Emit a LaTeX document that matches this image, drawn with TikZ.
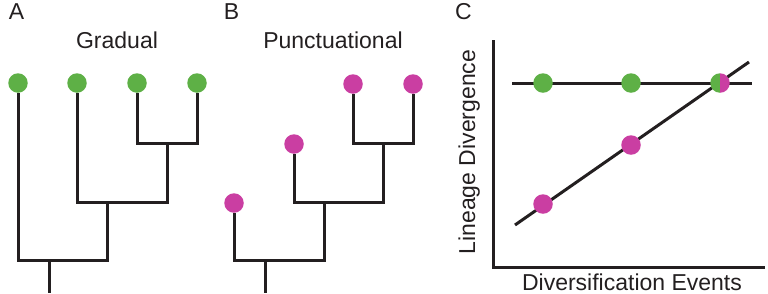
\documentclass[tikz,border=0pt]{standalone}
\usepackage{fontspec}
\setmainfont{Liberation Sans}
\usepackage{tikz}
\usetikzlibrary{positioning, calc}
\definecolor{tipgreen}{RGB}{94,176,70}
\definecolor{tippink}{RGB}{202,62,162}
\definecolor{inkgray}{RGB}{35,31,32}
\tikzstyle{branch} = [draw=inkgray, line width=3pt]
\tikzstyle{tipdot} = [circle, minimum size=19.5pt, inner sep=0pt]
\tikzstyle{gdot} = [tipdot, fill=tipgreen]
\tikzstyle{pdot} = [tipdot, fill=tippink]
\tikzstyle{txt} = [font=\fontsize{23}{27}\selectfont, inner sep=0pt, anchor=base, text=inkgray]

\begin{document}
\begin{tikzpicture}[x=1pt, y=-1pt]
\useasboundingbox (0,0) rectangle (768,293);

% panel letters and titles
\node (labA) [txt] at (16.5,19) {A};
\node (labB) [txt] at (231.5,19) {B};
\node (labC) [txt] at (463.5,19) {C};
\node (titleA) [txt] at (117,48) {Gradual};
\node (titleB) [txt] at (333,48) {Punctuational};

% A: gradual tree
\node (g1) [gdot] at (18,83) {};
\node (g2) [gdot] at (77,83) {};
\node (g3) [gdot] at (137,83) {};
\node (g4) [gdot] at (197,83) {};
\coordinate (a34) at (167,143);
\coordinate (a234) at (107,202);
\coordinate (aroot) at (49,260);
\coordinate (abase) at (49,293);
\draw [branch] (g3) |- (a34) -| (g4);
\draw [branch] (g2) |- (a234) -| (a34);
\draw [branch] (g1) |- (aroot) -| (a234);
\draw [branch] (aroot) -- (abase);

% B: punctuational tree
\node (p1) [pdot] at (234,203) {};
\node (p2) [pdot] at (294,144) {};
\node (p3) [pdot] at (353,84) {};
\node (p4) [pdot] at (413,84) {};
\coordinate (b34) at (383,143);
\coordinate (b234) at (324,202);
\coordinate (broot) at (265,260);
\coordinate (bbase) at (265,293);
\draw [branch] (p3) |- (b34) -| (p4);
\draw [branch] (p2) |- (b234) -| (b34);
\draw [branch] (p1) |- (broot) -| (b234);
\draw [branch] (broot) -- (bbase);

% C: divergence plot
\coordinate (ytop) at (493,40);
\coordinate (xend) at (765,267);
\draw [branch] (ytop) |- (xend);
\coordinate (hl) at (512,83);
\coordinate (hr) at (752,83);
\coordinate (dl) at (515,225);
\coordinate (dr) at (749,62);
\draw [branch] (hl) -- (hr);
\draw [branch] (dl) -- (dr);
\node (c1) [gdot] at (543,83) {};
\node (c2) [gdot] at (631,83) {};
\node (m1) [pdot] at (543,204) {};
\node (m2) [pdot] at (631,145) {};
\node (cm) [tipdot, path picture={
  \fill[tipgreen] (path picture bounding box.south west) rectangle (path picture bounding box.north);
  \fill[tippink] (path picture bounding box.north) rectangle (path picture bounding box.south east);}] at (720,83) {};
\node (ylab) [txt, rotate=90] at (475,152) {Lineage Divergence};
\node (xlab) [txt] at (632,290) {Diversification Events};
\end{tikzpicture}
\end{document}
